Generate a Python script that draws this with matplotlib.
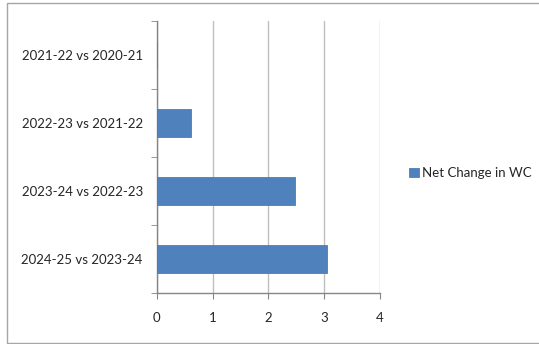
import matplotlib.pyplot as plt
from matplotlib.patches import Rectangle

# Net change in working capital, year over year
categories = ['2021-22 vs 2020-21', '2022-23 vs 2021-22',
              '2023-24 vs 2022-23', '2024-25 vs 2023-24']
net_change = [0, 0.62, 2.48, 3.05]
x_ticks = [0, 1, 2, 3, 4]
series_name = 'Net Change in WC'

plt.rcParams['font.family'] = ['Lato', 'DejaVu Sans']

fig = plt.figure(figsize=(5.39, 3.44), dpi=100)
ax = fig.add_axes([0.2907, 0.1483, 0.4144, 0.7907])

pos = list(range(len(categories)))
ax.barh(pos, net_change, height=0.4, color='#4F81BD', edgecolor='#4A7EBB',
        linewidth=0.6, label=series_name, zorder=3)

ax.set_ylim(len(categories) - 0.5, -0.5)
ax.set_xlim(0, 4)
ax.set_xticks(x_ticks)
ax.set_yticks(pos)
ax.set_yticklabels(categories)
ax.set_yticks([p - 0.5 for p in pos] + [len(pos) - 0.5], minor=True)

ax.grid(axis='x', color='#BFBFBF', linewidth=1, zorder=0)
for s in ['top', 'right']:
    ax.spines[s].set_visible(False)
for s in ['left', 'bottom']:
    ax.spines[s].set_color('#868686')
    ax.spines[s].set_linewidth(1)

ax.tick_params(axis='y', which='major', length=0, pad=10, labelsize=9.5, colors='#262626')
ax.tick_params(axis='y', which='minor', length=4, color='#868686')
ax.tick_params(axis='x', length=4, color='#868686', pad=10, labelsize=9.5, labelcolor='#262626')

fig.legend(loc='center left', bbox_to_anchor=(0.737, 0.497), frameon=False,
           fontsize=9.5, handlelength=0.75, handleheight=0.75, handletextpad=0.25,
           labelcolor='#262626')

# chart border (right side runs past the image edge)
fig.patches.append(Rectangle((7 / 539, 1 / 344), 540 / 539, 340 / 344,
                             transform=fig.transFigure, fill=False,
                             edgecolor='#A6A6A6', linewidth=1))

fig.savefig('out.png', dpi=100)
